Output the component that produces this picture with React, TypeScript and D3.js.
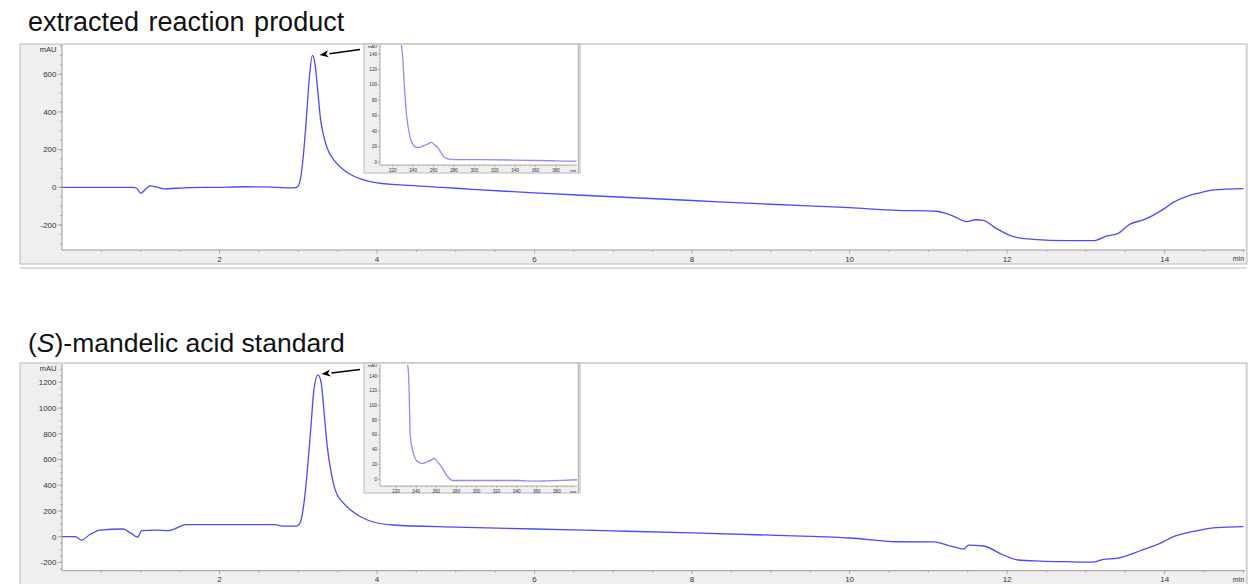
import React from "react";
import * as d3 from "d3";

// ---------- data ----------
const topTitle = "extracted reaction product";
const botTitleParts = ["(", "S", ")-mandelic acid standard"];

const topTime = [0, 0.5, 0.9, 0.95, 1.0, 1.06, 1.12, 1.2, 1.3, 1.45, 1.6, 2.0, 2.3, 2.6, 2.9, 2.98, 3.02, 3.06, 3.1, 3.14, 3.18, 3.21, 3.25, 3.28, 3.32, 3.37, 3.45, 3.57, 3.7, 3.8, 4.0, 4.5, 5.0, 6.0, 7.0, 8.0, 9.0, 10.0, 10.6, 11.1, 11.3, 11.49, 11.6, 11.7, 11.85, 12.08, 12.33, 12.76, 13.09, 13.27, 13.41, 13.56, 13.73, 13.98, 14.11, 14.3, 14.45, 14.62, 15.0];
const topSignal = [0, 0, 0, -5, -32, -10, 8, 2, -8, -5, -2, 0, 3, 2, -3, 0, 30, 150, 350, 580, 700, 660, 500, 370, 275, 205, 145, 95, 60, 43, 23, 8, -5, -30, -50, -70, -90, -108, -122, -127, -150, -182, -172, -175, -215, -262, -276, -283, -283, -258, -244, -195, -173, -117, -80, -45, -29, -14, -7];

const botTime = [0, 0.17, 0.25, 0.35, 0.48, 0.78, 0.84, 0.88, 0.96, 1.01, 1.2, 1.35, 1.58, 2.7, 2.8, 2.98, 3.03, 3.08, 3.12, 3.16, 3.2, 3.25, 3.29, 3.33, 3.37, 3.42, 3.47, 3.56, 3.66, 3.87, 4.2, 5.0, 6.0, 7.0, 8.0, 9.0, 10.0, 10.6, 11.06, 11.3, 11.45, 11.51, 11.7, 11.95, 12.14, 12.42, 12.76, 13.1, 13.22, 13.39, 13.69, 13.94, 14.11, 14.45, 14.66, 15.0];
const botSignal = [0, 0, -26, 15, 52, 60, 40, 26, -3, 47, 52, 47, 94, 94, 83, 83, 120, 300, 550, 850, 1150, 1258, 1200, 950, 690, 490, 360, 270, 210, 132, 91, 75, 60, 45, 30, 12, -10, -39, -40, -75, -96, -65, -72, -142, -181, -189, -194, -197, -176, -168, -109, -52, 0, 52, 70, 78];

const topInsetNm = [228, 229.5, 231.3, 233.6, 236.8, 240, 243, 246, 250, 254, 258, 261, 264, 267, 270, 274, 280, 300, 340, 380, 400];
const topInsetAbs = [155, 140, 100, 60, 33, 22, 19, 19, 21, 23, 25.5, 22, 19, 13, 7, 4, 3, 3, 2.5, 1.5, 1];

const botInsetNm = [231.5, 232.5, 233.3, 234, 236.3, 239, 242, 246, 250, 254, 258, 261, 264, 268, 272, 276, 300, 340, 360, 370, 400];
const botInsetAbs = [155, 140, 100, 60, 40, 28, 23, 21, 23, 25, 28, 23, 19, 10, 2, -2, -2, -2, -3, -2.5, -1];

const xMajorTicks = [2, 4, 6, 8, 10, 12, 14];
const topYTicks = [-200, 0, 200, 400, 600];
const botYTicks = [-200, 0, 200, 400, 600, 800, 1000, 1200];
const insetXTicks = [220, 240, 260, 280, 300, 320, 340, 360, 380];
const insetYTicks = [0, 20, 40, 60, 80, 100, 120, 140];

// ---------- styles ----------
const FONT = "'Liberation Sans', Arial, sans-serif";
const TRACE = "#4a4aff";
const INSET_TRACE = "#8c8cff";
const AXIS = "#9a9a9a";
const FRAME_FILL = "#efefef";
const FRAME_STROKE = "#b9b9b9";
const LABEL = "#333";

type Box = { l: number; r: number; t: number; b: number };

function Inset({ id, frame, plot, xDom, yDom, nm, abs }: { id: string; frame: Box; plot: Box; xDom: [number, number]; yDom: [number, number]; nm: number[]; abs: number[] }) {
  const x = d3.scaleLinear().domain(xDom).range([plot.l, plot.r]);
  const y = d3.scaleLinear().domain(yDom).range([plot.b, plot.t]);
  const line = d3.line<number>().x((_, i) => x(nm[i])).y((d) => y(d)).curve(d3.curveMonotoneX);
  const minorY = d3.range(0, 151, 5).filter((v) => y(v) >= plot.t);
  const minorX = d3.range(210, 400, 5).filter((v) => x(v) <= plot.r && x(v) >= plot.l);
  return (
    <g>
      <rect x={frame.l} y={frame.t} width={frame.r - frame.l} height={frame.b - frame.t} fill={FRAME_FILL} stroke={FRAME_STROKE} strokeWidth={1} />
      <rect x={plot.l} y={plot.t} width={plot.r - plot.l} height={plot.b - plot.t} fill="#fff" />
      <clipPath id={id}>
        <rect x={plot.l} y={plot.t} width={plot.r - plot.l} height={plot.b - plot.t} />
      </clipPath>
      <path d={line(abs) || ""} fill="none" stroke={INSET_TRACE} strokeWidth={1.3} clipPath={`url(#${id})`} />
      <line x1={plot.l} x2={plot.l} y1={plot.t} y2={plot.b} stroke={AXIS} strokeWidth={0.8} />
      <line x1={plot.l} x2={plot.r} y1={plot.b} y2={plot.b} stroke={AXIS} strokeWidth={0.8} />
      <line x1={plot.r + 1.5} x2={plot.r + 1.5} y1={frame.t} y2={frame.b} stroke={FRAME_STROKE} strokeWidth={1} />
      {minorY.map((v) => (
        <line key={"my" + v} x1={plot.l - 1.2} x2={plot.l} y1={y(v)} y2={y(v)} stroke={AXIS} strokeWidth={0.6} />
      ))}
      {minorX.map((v) => (
        <line key={"mx" + v} x1={x(v)} x2={x(v)} y1={plot.b} y2={plot.b + 1.2} stroke={AXIS} strokeWidth={0.6} />
      ))}
      {insetYTicks.map((v) => (
        <g key={"y" + v}>
          <line x1={plot.l - 2.5} x2={plot.l} y1={y(v)} y2={y(v)} stroke={AXIS} strokeWidth={0.6} />
          <text x={plot.l - 3} y={y(v)} dy="0.35em" textAnchor="end" fontSize={4.6} fill={LABEL} fontFamily={FONT}>{v}</text>
        </g>
      ))}
      <text x={plot.l - 3} y={plot.t + 3} textAnchor="end" fontSize={4.2} fill={LABEL} fontFamily={FONT}>mAU</text>
      {insetXTicks.map((v) => (
        <g key={"x" + v}>
          <line x1={x(v)} x2={x(v)} y1={plot.b} y2={plot.b + 2.2} stroke={AXIS} strokeWidth={0.6} />
          <text x={x(v)} y={plot.b + 7} textAnchor="middle" fontSize={4.6} fill={LABEL} fontFamily={FONT}>{v}</text>
        </g>
      ))}
      <text x={plot.r - 4} y={plot.b + 7} textAnchor="middle" fontSize={4.4} fill={LABEL} fontFamily={FONT}>nm</text>
    </g>
  );
}

function Panel({ id, frame, plot, yDom, yTicks, time, signal }: { id: string; frame: Box; plot: Box; yDom: [number, number]; yTicks: number[]; time: number[]; signal: number[] }) {
  const x = d3.scaleLinear().domain([0, 15.02]).range([plot.l, plot.r]);
  const y = d3.scaleLinear().domain(yDom).range([plot.b, plot.t]);
  const line = d3.line<number>().x((_, i) => x(time[i])).y((d) => y(d)).curve(d3.curveMonotoneX);
  const minorX = d3.range(0.5, 15, 0.5);
  const minorY = d3.range(-300, yDom[1], 50).filter((v) => y(v) <= plot.b && y(v) >= plot.t);
  return (
    <g>
      <rect x={frame.l} y={frame.t} width={frame.r - frame.l} height={frame.b - frame.t} fill={FRAME_FILL} stroke={FRAME_STROKE} strokeWidth={1} />
      <line x1={frame.l} x2={frame.r} y1={frame.b + 4} y2={frame.b + 4} stroke={FRAME_STROKE} strokeWidth={1} />
      <rect x={plot.l} y={plot.t} width={plot.r - plot.l} height={plot.b - plot.t} fill="#fff" />
      <clipPath id={id}>
        <rect x={plot.l} y={plot.t} width={plot.r - plot.l} height={plot.b - plot.t} />
      </clipPath>
      <path d={line(signal) || ""} fill="none" stroke={TRACE} strokeWidth={1.3} clipPath={`url(#${id})`} />
      <line x1={plot.l} x2={plot.l} y1={plot.t} y2={plot.b} stroke={AXIS} strokeWidth={1} />
      <line x1={plot.l} x2={plot.r} y1={plot.b} y2={plot.b} stroke={AXIS} strokeWidth={1} />
      {minorY.map((v) => (
        <line key={"my" + v} x1={plot.l - 2} x2={plot.l} y1={y(v)} y2={y(v)} stroke={AXIS} strokeWidth={0.8} />
      ))}
      {yTicks.map((v) => (
        <g key={"y" + v}>
          <line x1={plot.l - 4} x2={plot.l} y1={y(v)} y2={y(v)} stroke={AXIS} strokeWidth={0.8} />
          <text x={plot.l - 5.5} y={y(v)} dy="0.35em" textAnchor="end" fontSize={8} fill={LABEL} fontFamily={FONT}>{v}</text>
        </g>
      ))}
      <text x={plot.l - 5.5} y={plot.t + 7} textAnchor="end" fontSize={7.5} fill={LABEL} fontFamily={FONT}>mAU</text>
      {minorX.map((v) => (
        <line key={"mx" + v} x1={x(v)} x2={x(v)} y1={plot.b} y2={plot.b + (xMajorTicks.includes(v) ? 3.5 : 2)} stroke={AXIS} strokeWidth={0.8} />
      ))}
      {xMajorTicks.map((v) => (
        <text key={"xl" + v} x={x(v)} y={plot.b + 11.5} textAnchor="middle" fontSize={8} fill={LABEL} fontFamily={FONT}>{v}</text>
      ))}
      <line x1={x(15)} x2={x(15)} y1={plot.b} y2={plot.b + 2} stroke={AXIS} strokeWidth={0.8} />
      <text x={x(15) - 5} y={plot.b + 11} textAnchor="middle" fontSize={7} fill={LABEL} fontFamily={FONT}>min</text>
    </g>
  );
}

function Arrow({ x1, y1, x2, y2 }: { x1: number; y1: number; x2: number; y2: number }) {
  const ang = Math.atan2(y2 - y1, x2 - x1);
  const len = 9, half = 3.6;
  const bx = x2 - len * Math.cos(ang), by = y2 - len * Math.sin(ang);
  const p1 = [bx + half * Math.sin(ang), by - half * Math.cos(ang)];
  const p2 = [bx - half * Math.sin(ang), by + half * Math.cos(ang)];
  return (
    <g>
      <line x1={x1} y1={y1} x2={bx + 1} y2={by} stroke="#000" strokeWidth={1.6} />
      <path d={`M${x2},${y2}L${p1[0]},${p1[1]}L${bx + 2.5 * Math.cos(ang)},${by + 2.5 * Math.sin(ang)}L${p2[0]},${p2[1]}Z`} fill="#000" />
    </g>
  );
}

export default function App() {
  return (
    <svg width={1248} height={584} style={{ position: "absolute", left: 0, top: 0, background: "#fff" }}>
      <rect x={0} y={0} width={1248} height={584} fill="#fff" />
      <text x={28} y={31} fontSize={27} wordSpacing={2} fontFamily={FONT} fill="#111">{topTitle}</text>
      <Panel id="clipTop" frame={{ l: 20, r: 1247, t: 44, b: 264 }} plot={{ l: 62, r: 1245, t: 45, b: 250 }} yDom={[-332.6, 755]} yTicks={topYTicks} time={topTime} signal={topSignal} />
      <Inset id="clipTopInset" frame={{ l: 364, r: 580, t: 44, b: 173 }} plot={{ l: 380, r: 577, t: 45, b: 165 }} xDom={[207.5, 400.6]} yDom={[-3.9, 151.7]} nm={topInsetNm} abs={topInsetAbs} />
      <Arrow x1={360} y1={49.5} x2={319.5} y2={55} />

      <text x={28} y={352} fontSize={26.5} fontFamily={FONT} fill="#111">
        <tspan>{botTitleParts[0]}</tspan>
        <tspan fontStyle="italic">{botTitleParts[1]}</tspan>
        <tspan>{botTitleParts[2]}</tspan>
      </text>
      <Panel id="clipBot" frame={{ l: 20, r: 1247, t: 363, b: 590 }} plot={{ l: 62, r: 1245, t: 364, b: 570.7 }} yDom={[-264, 1342]} yTicks={botYTicks} time={botTime} signal={botSignal} />
      <Inset id="clipBotInset" frame={{ l: 364, r: 580, t: 363, b: 493 }} plot={{ l: 380, r: 577, t: 364, b: 486 }} xDom={[204, 400]} yDom={[-9.5, 156.3]} nm={botInsetNm} abs={botInsetAbs} />
      <Arrow x1={360} y1={369.5} x2={321.5} y2={374} />
    </svg>
  );
}
